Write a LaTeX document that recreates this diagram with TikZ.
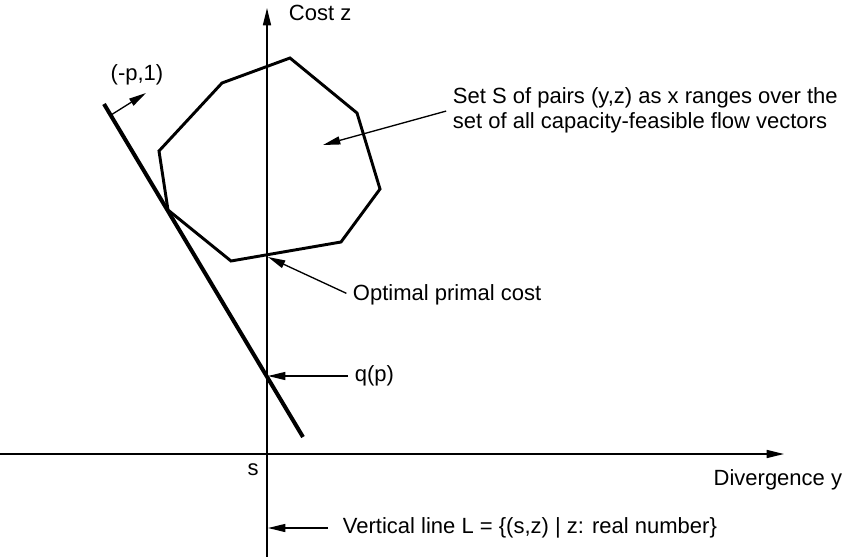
\documentclass[tikz,border=0pt]{standalone}
\usepackage{fontspec}
\setmainfont{Liberation Sans}
\usetikzlibrary{arrows.meta}

\tikzset{
  axis/.style={line width=1.1pt,-{Triangle[length=13pt,width=6pt]}},
  pointer/.style={line width=1pt,shorten <=3pt,-{Triangle[length=13pt,width=6pt]}},
  note/.style={anchor=west,inner sep=2pt,align=left},
}

\begin{document}
\begin{tikzpicture}[x=0.75pt,y=-0.75pt,font=\fontsize{16.5}{18.5}\selectfont]
  \useasboundingbox (0,0) rectangle (847,557);
  % axes
  \draw[axis] (0,454) -- (784,454);
  \draw[axis] (267,557) -- (267,8);
  % set S
  \draw[line width=2.2pt] (222,83) -- (290,58) -- (357,113) -- (380,189)
    -- (341,242) -- (231,261) -- (168,210) -- (159,151) -- cycle;
  % supporting line and its normal
  \coordinate (tTop) at (104,104);
  \coordinate (tBot) at (303,437);
  \draw[line width=3pt] (tTop) -- (tBot);
  \coordinate (nBase) at (111,115);
  \coordinate (nTip) at (146,93);
  \draw[line width=1pt,-{Triangle[length=13pt,width=6pt]}] (nBase) -- (nTip);
  % labels
  \node (cost) [note] at (286,13) {Cost z};
  \node (pnorm) at (137,75) {(-p,1)};
  \node (setS) [note] at (450,110) {Set S of pairs (y,z) as x ranges over the\\set of all capacity-feasible flow vectors};
  \node (opt) [note] at (350,295) {Optimal primal cost};
  \node (qp) [note] at (352,376) {q(p)};
  \node (s) at (253,470) {s};
  \node (divy) [note,anchor=east] at (845,480) {Divergence y};
  \node (vl) [note] at (340,528) {Vertical line L = \{(s,z) | z: real number\}};
  % pointers
  \coordinate (setTip) at (323,145);
  \coordinate (optTip) at (268,257);
  \coordinate (qTip) at (268,376);
  \coordinate (vTip) at (268,528);
  \draw[pointer] (setS.west) -- (setTip);
  \draw[pointer] (opt.west) -- (optTip);
  \draw[pointer] (qp.west) -- (qTip);
  \draw[pointer,shorten <=9pt] (vl.west) -- (vTip);
\end{tikzpicture}
\end{document}
